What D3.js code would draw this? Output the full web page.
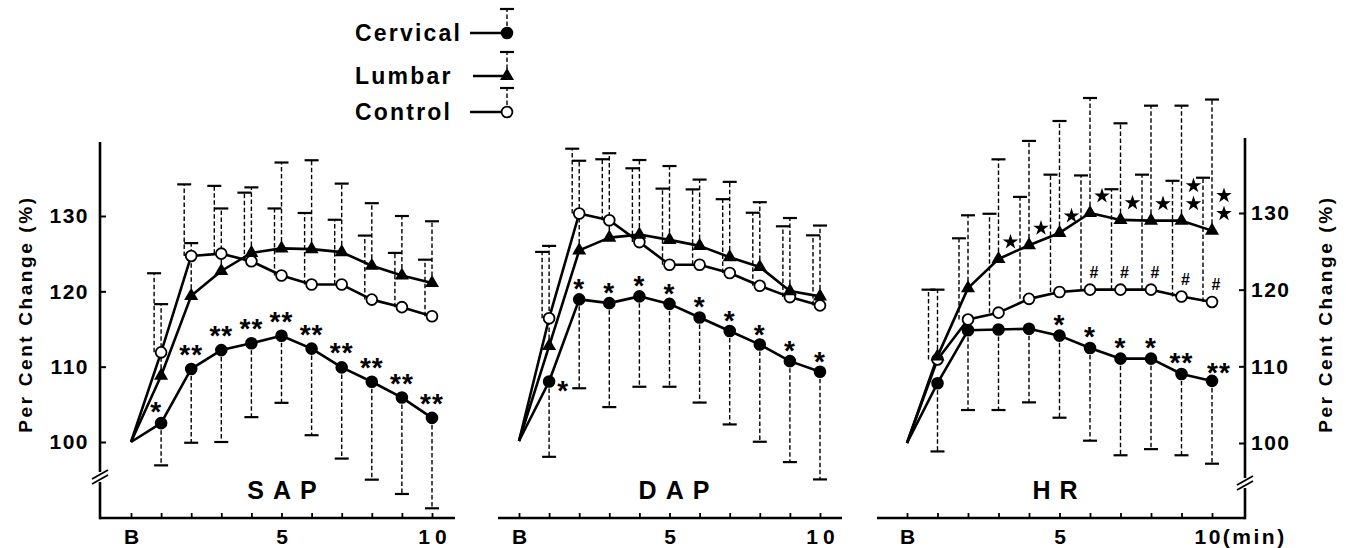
<!DOCTYPE html>
<html>
<head>
<meta charset="utf-8">
<script src="https://cdn.jsdelivr.net/npm/d3@7"></script>
<style>
  body { margin: 0; background: #fff; }
  svg { display: block; }
</style>
</head>
<body>
<svg id="chart" width="1346" height="548"></svg>
<script>
// minutes after onset, B = baseline
const minutes = [0, 1, 2, 3, 4, 5, 6, 7, 8, 9, 10];
const tickLabels = ["B", "", "", "", "", "5", "", "", "", "", "10"];
const yTicks = [100, 110, 120, 130];

// SAP
const sapCervical = [100, 102.5, 109.7, 112.2, 113.1, 114.1, 112.4, 109.9, 108.0, 105.9, 103.2];
const sapCervicalLow = [null, 96.9, 99.9, 100.0, 103.3, 105.2, 100.9, 97.8, 95.0, 93.1, 91.2];
const sapLumbar = [100, 108.8, 119.4, 122.7, 125.1, 125.7, 125.6, 125.2, 123.4, 122.1, 121.1];
const sapLumbarHigh = [null, 118.3, 126.4, 131.0, 133.8, 137.1, 137.4, 134.3, 131.7, 130.0, 129.3];
const sapControl = [100, 111.9, 124.7, 125.0, 124.0, 122.1, 120.9, 120.9, 118.9, 117.9, 116.7];
const sapControlHigh = [null, 122.4, 134.2, 134.0, 133.1, 131.0, 130.4, 129.5, 127.4, 125.1, 124.2];
const sapCervicalMarks = ["", "*", "**", "**", "**", "**", "**", "**", "**", "**", "**"];

// DAP
const dapCervical = [100, 107.9, 118.8, 118.3, 119.2, 118.2, 116.4, 114.6, 112.8, 110.6, 109.2];
const dapCervicalLow = [null, 97.9, 107.0, 104.5, 107.2, 107.2, 105.1, 102.2, 99.9, 97.2, 94.9];
const dapLumbar = [100, 112.6, 125.3, 127.0, 127.4, 126.7, 125.9, 124.4, 123.1, 119.9, 119.2];
const dapLumbarHigh = [null, 125.9, 137.2, 138.2, 137.3, 136.5, 134.7, 134.4, 131.7, 129.6, 128.6];
const dapControl = [100, 116.3, 130.2, 129.3, 126.4, 123.4, 123.4, 122.3, 120.6, 119.1, 118.0];
const dapControlHigh = [null, 125.1, 138.8, 137.4, 136.2, 133.5, 133.4, 132.1, 130.3, 128.5, 127.3];
const dapCervicalMarks = ["", "*", "*", "*", "*", "*", "*", "*", "*", "*", "*"];

// HR
const hrCervical = [100, 107.8, 114.7, 114.8, 114.9, 114.0, 112.4, 111.0, 111.0, 109.0, 108.1];
const hrCervicalLow = [null, 98.9, 104.3, 104.3, 105.3, 103.3, 100.3, 98.4, 99.2, 98.4, 97.3];
const hrLumbar = [100, 111.3, 120.2, 124.0, 125.8, 127.4, 130.0, 129.1, 129.0, 129.0, 127.7];
const hrLumbarHigh = [null, 120.0, 129.7, 137.0, 139.4, 142.0, 145.0, 141.7, 144.0, 144.0, 144.8];
const hrControl = [100, 110.9, 116.1, 117.0, 118.8, 119.7, 120.0, 120.0, 120.0, 119.1, 118.4];
const hrControlHigh = [null, 120.0, 126.7, 129.9, 132.1, 135.0, 134.9, 133.1, 135.0, 134.2, 134.6];
const hrCervicalMarks = ["", "", "", "", "", "*", "*", "*", "*", "**", "**"];
const hrLumbarStars = [0, 0, 0, 1, 1, 1, 1, 1, 1, 2, 2];
const hrControlHashes = [0, 0, 0, 0, 0, 0, 1, 1, 1, 1, 1];

const legendNames = ["Cervical", "Lumbar", "Control"];

const FONT = '"Liberation Sans", Arial, Helvetica, sans-serif';
const svg = d3.select("#chart");
const AXIS_Y = 518;

// marker drawing
const drawMarker = (sel, type, cx, cy) => {
  if (type === "tri") {
    sel.append("path")
      .attr("d", d3.symbol().type(d3.symbolTriangle).size(85)())
      .attr("transform", `translate(${cx},${cy})`)
      .attr("fill", "#000");
  } else {
    sel.append("circle")
      .attr("cx", cx).attr("cy", cy).attr("r", 5.4)
      .attr("fill", type === "dot" ? "#000" : "#fff")
      .attr("stroke", "#000")
      .attr("stroke-width", 1.8);
  }
};

const drawErrorBar = (sel, x, y1, y2) => {
  sel.append("line")
    .attr("x1", x).attr("x2", x).attr("y1", y1).attr("y2", y2)
    .attr("stroke", "#000").attr("stroke-width", 1.4)
    .attr("stroke-dasharray", "4.5,2.5");
  sel.append("line")
    .attr("x1", x - 7).attr("x2", x + 7).attr("y1", y2).attr("y2", y2)
    .attr("stroke", "#000").attr("stroke-width", 2.2);
};

const panels = [
  {
    name: "SAP", xB: 131, x10: 432, y100: 442, y130: 216, axisL: 100, axisR: 455,
    labelX: 282,
    series: [
      { vals: sapControl, err: sapControlHigh, marker: "open", off: -7 },
      { vals: sapLumbar, err: sapLumbarHigh, marker: "tri", off: 0 },
      { vals: sapCervical, err: sapCervicalLow, marker: "dot", off: 0 }
    ],
    cervicalMarks: sapCervicalMarks
  },
  {
    name: "DAP", xB: 519, x10: 820, y100: 441, y130: 215, axisL: 498, axisR: 842,
    labelX: 674,
    series: [
      { vals: dapControl, err: dapControlHigh, marker: "open", off: -7 },
      { vals: dapLumbar, err: dapLumbarHigh, marker: "tri", off: 0 },
      { vals: dapCervical, err: dapCervicalLow, marker: "dot", off: 0 }
    ],
    cervicalMarks: dapCervicalMarks
  },
  {
    name: "HR", xB: 907, x10: 1212, y100: 443, y130: 213, axisL: 877, axisR: 1245,
    labelX: 1055,
    series: [
      { vals: hrControl, err: hrControlHigh, marker: "open", off: -9 },
      { vals: hrLumbar, err: hrLumbarHigh, marker: "tri", off: 0 },
      { vals: hrCervical, err: hrCervicalLow, marker: "dot", off: 0 }
    ],
    cervicalMarks: hrCervicalMarks
  }
];

panels.forEach((p, pi) => {
  const x = d3.scaleLinear().domain([0, 10]).range([p.xB, p.x10]);
  const y = d3.scaleLinear().domain([100, 130]).range([p.y100, p.y130]);
  const g = svg.append("g").attr("class", "panel-" + p.name);

  // x axis
  g.append("line")
    .attr("x1", p.axisL).attr("x2", p.axisR)
    .attr("y1", AXIS_Y).attr("y2", AXIS_Y)
    .attr("stroke", "#000").attr("stroke-width", 2.6);
  const xAxis = g.append("g")
    .attr("transform", `translate(0,${AXIS_Y})`)
    .call(d3.axisBottom(x).tickValues(minutes).tickSize(-5).tickPadding(11)
      .tickFormat((d, i) => (pi === 2 && d === 10) ? "10(min)" : tickLabels[i]));
  xAxis.select(".domain").remove();
  xAxis.selectAll(".tick line").attr("stroke-width", 1.8);
  xAxis.selectAll(".tick text")
    .attr("font-family", FONT).attr("font-weight", "bold")
    .attr("font-size", 21).attr("letter-spacing", 5)
    .attr("dx", 2.5)
    .attr("fill", "#000");
  if (pi === 2) {
    xAxis.selectAll(".tick text").filter(d => d === 10)
      .attr("text-anchor", "start").attr("x", -18).attr("dx", 0).attr("letter-spacing", 2.5);
  }

  // panel label
  g.append("text")
    .attr("x", p.labelX).attr("y", 499)
    .attr("text-anchor", "middle")
    .attr("font-family", FONT).attr("font-weight", "bold")
    .attr("font-size", 25).attr("letter-spacing", 9)
    .attr("dx", 4.5)
    .text(p.name);

  // lines
  const line = d3.line().x((d, i) => x(minutes[i])).y(d => y(d));
  p.series.forEach(s => {
    g.append("path")
      .datum(s.vals)
      .attr("d", line)
      .attr("fill", "none")
      .attr("stroke", "#000")
      .attr("stroke-width", 2.6)
      .attr("stroke-linejoin", "round");
  });

  // error bars
  p.series.forEach(s => {
    s.err.forEach((e, i) => {
      if (e == null) return;
      drawErrorBar(g, x(minutes[i]) + s.off, y(s.vals[i]), y(e));
    });
  });

  // markers
  p.series.forEach(s => {
    s.vals.forEach((v, i) => {
      if (i === 0) return;
      drawMarker(g, s.marker, x(minutes[i]), y(v));
    });
  });

  // significance marks on cervical
  const cerv = p.series[2].vals;
  p.cervicalMarks.forEach((m, i) => {
    if (!m) return;
    let dx = 0, dy = -19;
    if (pi === 0 && i === 1) { dx = -5; dy = -16; }
    if (pi === 1) { dy = -15; }
    if (pi === 1 && i === 1) { dx = 14; dy = 5; }
    if (pi === 2) { dy = -16; }
    if (pi === 2 && i === 10) { dx = 7; dy = -13; }
    g.append("text")
      .attr("x", x(minutes[i]) + dx)
      .attr("y", y(cerv[i]) + dy + 14)
      .attr("text-anchor", "middle")
      .attr("font-family", FONT).attr("font-weight", "bold")
      .attr("font-size", 28).attr("letter-spacing", 1)
      .text(m);
  });

  if (pi === 2) {
    // stars: lumbar vs control significance
    const star = d3.symbol().type(d3.symbolStar).size(75)();
    hrLumbarStars.forEach((n, i) => {
      for (let k = 0; k < n; k++) {
        g.append("path")
          .attr("d", star)
          .attr("transform", `translate(${x(minutes[i]) + 12},${y(hrLumbar[i]) - 17 - k * 18})`)
          .attr("fill", "#000");
      }
    });
    hrControlHashes.forEach((n, i) => {
      if (!n) return;
      g.append("text")
        .attr("x", x(minutes[i]) + 4)
        .attr("y", y(hrControl[i]) - 18 + 6)
        .attr("text-anchor", "middle")
        .attr("font-family", FONT).attr("font-weight", "bold")
        .attr("font-size", 16)
        .text("#");
    });
  }

  // y axes
  if (pi === 0 || pi === 2) {
    const left = pi === 0;
    const ax = left ? 100 : 1245;
    const axisTop = left ? 142 : 138;
    const brk = left ? 478 : 484;
    g.append("line").attr("x1", ax).attr("x2", ax).attr("y1", axisTop).attr("y2", brk - 6)
      .attr("stroke", "#000").attr("stroke-width", 2.6);
    g.append("line").attr("x1", ax).attr("x2", ax).attr("y1", brk + 4).attr("y2", AXIS_Y + 1.3)
      .attr("stroke", "#000").attr("stroke-width", 2.6);
    [-3, 2].forEach(o => {
      g.append("line")
        .attr("x1", ax - 8).attr("y1", brk + o + 4)
        .attr("x2", ax + 8).attr("y2", brk + o - 5)
        .attr("stroke", "#000").attr("stroke-width", 1.8);
    });
    const yAxis = g.append("g")
      .attr("transform", `translate(${ax},0)`)
      .call((left ? d3.axisLeft(y) : d3.axisRight(y))
        .tickValues(yTicks).tickSize(-6).tickPadding(12));
    yAxis.select(".domain").remove();
    yAxis.selectAll(".tick line").attr("stroke-width", 2);
    yAxis.selectAll(".tick text")
      .attr("font-family", FONT).attr("font-weight", "bold")
      .attr("font-size", 21).attr("letter-spacing", 1.5)
      .attr("fill", "#000");
    yAxis.selectAll(".tick text").attr("x", left ? -11 : 6);

    const lx = left ? 32 : 1332;
    g.append("text")
      .attr("transform", `translate(${lx},314) rotate(-90)`)
      .attr("text-anchor", "middle")
      .attr("font-family", FONT).attr("font-weight", "bold")
      .attr("font-size", 19).attr("letter-spacing", 2.6)
      .text("Per Cent Change (%)");
  }
});

// legend
const legend = svg.append("g").attr("class", "legend");
const legendMarkers = ["dot", "tri", "open"];
const legendRows = [33, 76, 112];
const legendLineStart = [470, 473, 470];
legendNames.forEach((name, i) => {
  const cy = legendRows[i];
  legend.append("text")
    .attr("x", 355).attr("y", cy + 8)
    .attr("font-family", FONT).attr("font-weight", "bold")
    .attr("font-size", 23).attr("letter-spacing", 2.2)
    .text(name);
  legend.append("line")
    .attr("x1", legendLineStart[i]).attr("x2", 506)
    .attr("y1", cy).attr("y2", cy)
    .attr("stroke", "#000").attr("stroke-width", 2.6);
  drawErrorBar(legend, 507, cy, cy - 24);
  drawMarker(legend, legendMarkers[i], 507, cy);
});
</script>
</body>
</html>
